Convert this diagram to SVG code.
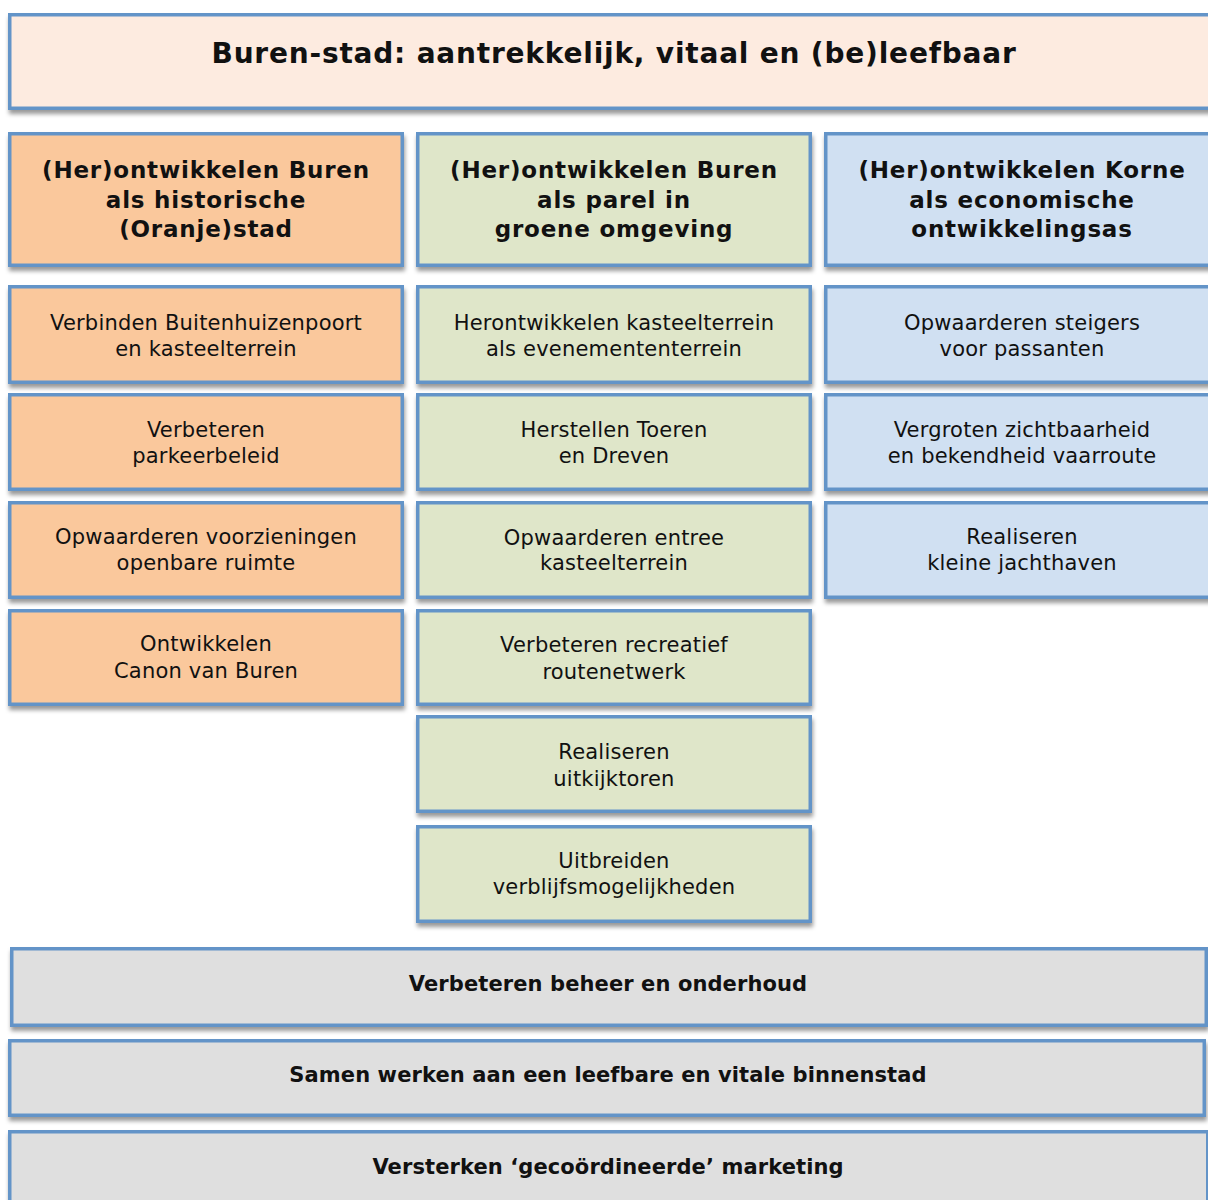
<svg xmlns="http://www.w3.org/2000/svg" width="1208" height="1200" viewBox="0 0 1208 1200">
<defs>
<filter id="sh" x="-5%" y="-10%" width="110%" height="130%">
<feDropShadow dx="1" dy="4" stdDeviation="2.2" flood-color="#000" flood-opacity="0.4"/>
</filter>
<style>
rect{stroke:#6494c8;stroke-width:3.5;filter:url(#sh)}
.t{fill:#fdebe0}.o{fill:#fac89c}.g{fill:#dfe6c9}.b{fill:#d0e0f2}.y{fill:#dfdfdf}
text{font-family:"DejaVu Sans",Verdana,sans-serif;text-anchor:middle;fill:#111}
.tt{font-size:28px;font-weight:bold;letter-spacing:0.8px}
.h{font-size:23px;font-weight:bold;letter-spacing:0.8px}
.i{font-size:21px;letter-spacing:0.2px}
.f{font-size:21px;font-weight:bold;letter-spacing:0.1px}
</style>
</defs>
<rect x="0" y="0" width="1208" height="1200" style="fill:#fff;stroke:none;filter:none"/>
<g id="title"><rect class="t" x="9.75" y="14.75" width="1220" height="93.5"/><text class="tt" x="614" y="63">Buren-stad: aantrekkelijk, vitaal en (be)leefbaar</text></g>

<g id="h1"><rect class="o" x="9.75" y="133.75" width="392.5" height="131.5"/><text class="h" x="206"><tspan x="206" y="178">(Her)ontwikkelen Buren</tspan><tspan x="206" y="207.5">als historische</tspan><tspan x="206" y="237">(Oranje)stad</tspan></text></g>
<g id="h2"><rect class="g" x="417.75" y="133.75" width="392.5" height="131.5"/><text class="h" x="614"><tspan x="614" y="178">(Her)ontwikkelen Buren</tspan><tspan x="614" y="207.5">als parel in</tspan><tspan x="614" y="237">groene omgeving</tspan></text></g>
<g id="h3"><rect class="b" x="825.75" y="133.75" width="400" height="131.5"/><text class="h" x="1022"><tspan x="1022" y="178">(Her)ontwikkelen Korne</tspan><tspan x="1022" y="207.5">als economische</tspan><tspan x="1022" y="237">ontwikkelingsas</tspan></text></g>

<g id="l1"><rect class="o" x="9.75" y="286.75" width="392.5" height="95.5"/><text class="i"><tspan x="206" y="330">Verbinden Buitenhuizenpoort</tspan><tspan x="206" y="356">en kasteelterrein</tspan></text></g>
<g id="l2"><rect class="o" x="9.75" y="394.75" width="392.5" height="94.5"/><text class="i"><tspan x="206" y="437">Verbeteren</tspan><tspan x="206" y="463">parkeerbeleid</tspan></text></g>
<g id="l3"><rect class="o" x="9.75" y="502.75" width="392.5" height="94.5"/><text class="i"><tspan x="206" y="544">Opwaarderen voorzieningen</tspan><tspan x="206" y="570">openbare ruimte</tspan></text></g>
<g id="l4"><rect class="o" x="9.75" y="610.75" width="392.5" height="93.5"/><text class="i"><tspan x="206" y="651">Ontwikkelen</tspan><tspan x="206" y="678">Canon van Buren</tspan></text></g>

<g id="m1"><rect class="g" x="417.75" y="286.75" width="392.5" height="95.5"/><text class="i"><tspan x="614" y="330">Herontwikkelen kasteelterrein</tspan><tspan x="614" y="356">als evenemententerrein</tspan></text></g>
<g id="m2"><rect class="g" x="417.75" y="394.75" width="392.5" height="94.5"/><text class="i"><tspan x="614" y="437">Herstellen Toeren</tspan><tspan x="614" y="463">en Dreven</tspan></text></g>
<g id="m3"><rect class="g" x="417.75" y="502.75" width="392.5" height="94.5"/><text class="i"><tspan x="614" y="545">Opwaarderen entree</tspan><tspan x="614" y="570">kasteelterrein</tspan></text></g>
<g id="m4"><rect class="g" x="417.75" y="610.75" width="392.5" height="93.5"/><text class="i"><tspan x="614" y="652">Verbeteren recreatief</tspan><tspan x="614" y="679">routenetwerk</tspan></text></g>
<g id="m5"><rect class="g" x="417.75" y="716.75" width="392.5" height="94.5"/><text class="i"><tspan x="614" y="759">Realiseren</tspan><tspan x="614" y="786">uitkijktoren</tspan></text></g>
<g id="m6"><rect class="g" x="417.75" y="826.75" width="392.5" height="94.5"/><text class="i"><tspan x="614" y="868">Uitbreiden</tspan><tspan x="614" y="894">verblijfsmogelijkheden</tspan></text></g>

<g id="r1"><rect class="b" x="825.75" y="286.75" width="400" height="95.5"/><text class="i"><tspan x="1022" y="330">Opwaarderen steigers</tspan><tspan x="1022" y="356">voor passanten</tspan></text></g>
<g id="r2"><rect class="b" x="825.75" y="394.75" width="400" height="94.5"/><text class="i"><tspan x="1022" y="437">Vergroten zichtbaarheid</tspan><tspan x="1022" y="463">en bekendheid vaarroute</tspan></text></g>
<g id="r3"><rect class="b" x="825.75" y="502.75" width="400" height="94.5"/><text class="i"><tspan x="1022" y="544">Realiseren</tspan><tspan x="1022" y="570">kleine jachthaven</tspan></text></g>

<g id="b1"><rect class="y" x="11.75" y="948.75" width="1194.5" height="76.5"/><text class="f" x="608" y="991">Verbeteren beheer en onderhoud</text></g>
<g id="b2"><rect class="y" x="9.75" y="1040.75" width="1194.5" height="74.5"/><text class="f" x="608" y="1082">Samen werken aan een leefbare en vitale binnenstad</text></g>
<g id="b3"><rect class="y" x="9.75" y="1131.75" width="1198" height="80"/><text class="f" x="608" y="1174">Versterken ‘gecoördineerde’ marketing</text></g>
<g id="connectors"/>
</svg>
